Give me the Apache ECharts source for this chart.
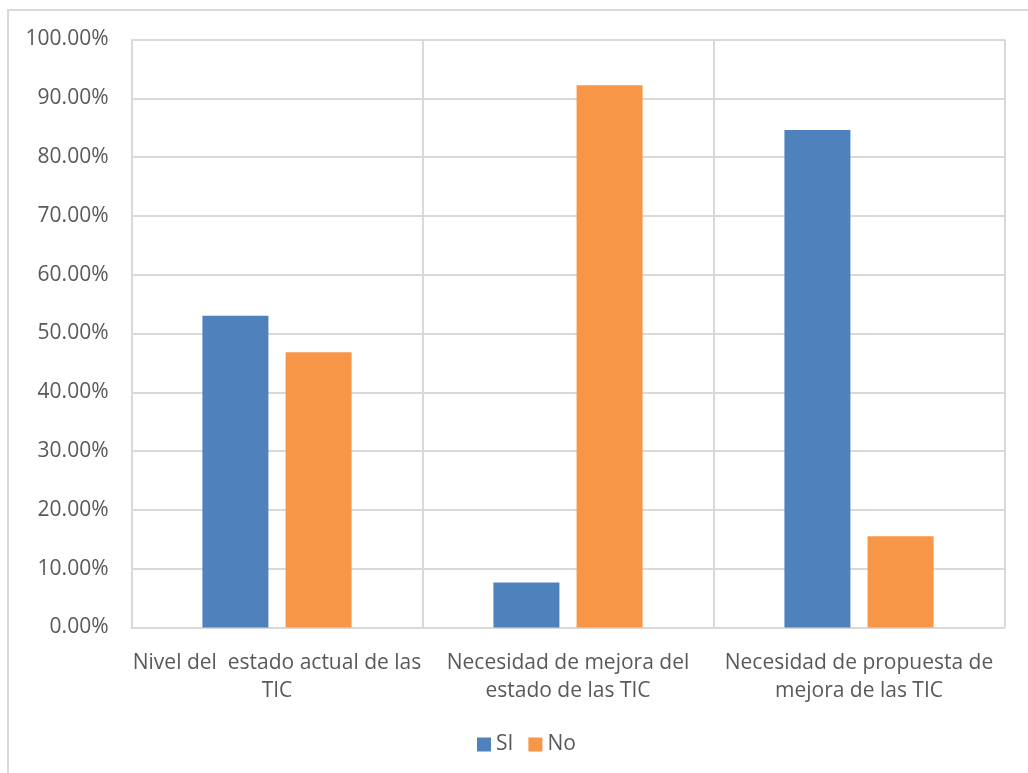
<!DOCTYPE html>
<html><head><meta charset="utf-8">
<script src="https://cdn.jsdelivr.net/npm/echarts@6/dist/echarts.min.js"></script>
<style>html,body{margin:0;padding:0;background:#fff}#c{width:1028px;height:773px}</style>
</head><body><div id="c"></div>
<script>
const categories = ['Nivel del  estado actual de las\nTIC', 'Necesidad de mejora del\nestado de las TIC', 'Necesidad de propuesta de\nmejora de las TIC'];
const seriesNames = ['SI', 'No'];
const siValues = [53.0, 7.65, 84.62];
const noValues = [46.8, 92.2, 15.5];
const yTicks = [0, 10, 20, 30, 40, 50, 60, 70, 80, 90, 100];

const FONT = '"Open Sans", "Liberation Sans", Arial, sans-serif';
const chart = echarts.init(document.getElementById('c'));
chart.setOption({
  animation: false,
  backgroundColor: '#fff',
  textStyle: { fontFamily: FONT },
  graphic: [{
    type: 'rect', shape: { x: 8, y: 10, width: 1100, height: 900 },
    style: { fill: 'none', stroke: '#d9d9d9', lineWidth: 2 }, silent: true, z: -1
  }],
  grid: { left: 131.5, right: 23.5, top: 39.5, bottom: 145.5 },
  legend: {
    data: seriesNames, bottom: 18, left: 477, padding: 0,
    itemWidth: 14, itemHeight: 14, itemGap: 15, icon: 'rect',
    textStyle: { fontSize: 21, color: '#595959', fontFamily: FONT }
  },
  xAxis: {
    type: 'category', data: categories,
    axisLine: { lineStyle: { color: '#d9d9d9', width: 2 } },
    axisTick: { show: false },
    splitLine: { show: true, lineStyle: { color: '#d9d9d9', width: 2 } },
    axisLabel: { fontSize: 21, color: '#595959', lineHeight: 28, margin: 22, interval: 0, fontFamily: FONT }
  },
  yAxis: {
    type: 'value', min: yTicks[0], max: yTicks[yTicks.length - 1], interval: 10,
    axisLine: { show: false }, axisTick: { show: false },
    splitLine: { lineStyle: { color: '#d9d9d9', width: 2 } },
    axisLabel: { fontSize: 21, color: '#595959', margin: 23, formatter: v => v.toFixed(2) + '%', fontFamily: FONT }
  },
  series: [
    { name: seriesNames[0], type: 'bar', data: siValues, barWidth: 66, barGap: '26%', itemStyle: { color: '#4f81bd' } },
    { name: seriesNames[1], type: 'bar', data: noValues, barWidth: 66, barGap: '26%', itemStyle: { color: '#f79646' } }
  ]
});
</script></body></html>
